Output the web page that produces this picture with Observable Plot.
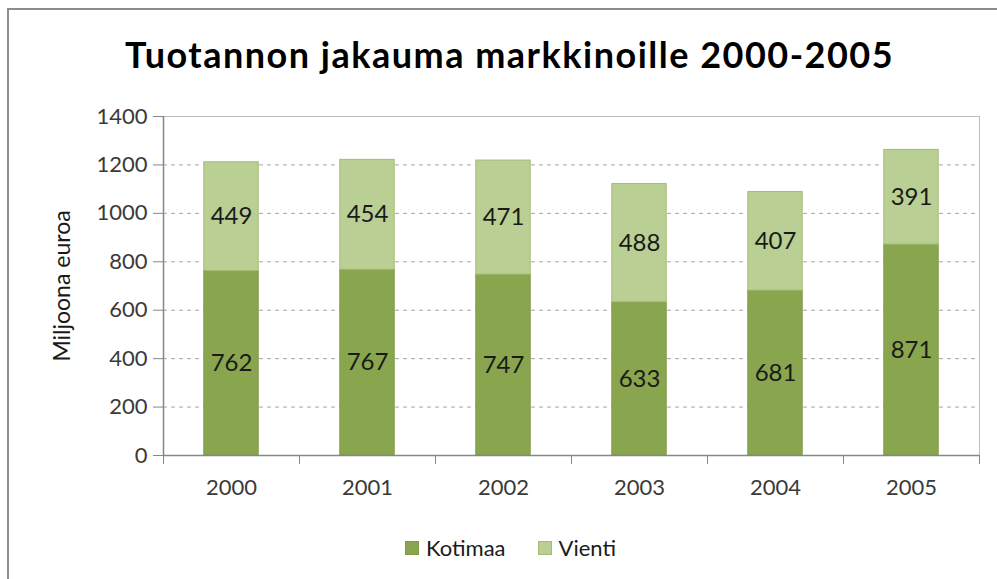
<!DOCTYPE html>
<html><head><meta charset="utf-8">
<script src="https://cdn.jsdelivr.net/npm/d3@7"></script>
<script src="https://cdn.jsdelivr.net/npm/@observablehq/plot@0.6"></script>
<style>
body{margin:0;background:#fff;font-family:Lato,sans-serif;}
#wrap{position:relative;width:997px;height:579px;overflow:hidden;background:#fff;}
#frame{position:absolute;left:7px;top:8px;width:1100px;height:700px;border-left:2px solid #8c8c8c;border-top:2px solid #8c8c8c;}
#title{position:absolute;top:36px;left:0;width:1019px;text-align:center;font-weight:700;font-size:36px;line-height:36px;letter-spacing:1.5px;color:#000;}
#chart{position:absolute;left:0;top:100px;}
#legend{position:absolute;top:536px;left:405px;display:flex;align-items:center;font-size:22px;line-height:24px;color:#1a1a1a;}
.sw{width:14px;height:14px;display:inline-block;margin-right:7px;box-sizing:border-box;}
.item{display:flex;align-items:center;margin-right:32px;}
</style></head>
<body>
<div id="wrap">
  <div id="frame"></div>
  <div id="title">Tuotannon jakauma markkinoille 2000-2005</div>
  <div id="chart"></div>
  <div id="legend"></div>
</div>
<script>
const years = ["2000", "2001", "2002", "2003", "2004", "2005"];
const seriesNames = ["Kotimaa", "Vienti"];
const kotimaa = [762, 767, 747, 633, 681, 871];
const vienti = [449, 454, 471, 488, 407, 391];
const yTicks = [0, 200, 400, 600, 800, 1000, 1200, 1400];
const fills = {Kotimaa: "#89a54e", Vienti: "#b9cf93"};
const strokes = {Kotimaa: "#7f9b47", Vienti: "#a2bd72"};

const rows = years.flatMap((year, i) => [
  {i, year, series: "Kotimaa", value: kotimaa[i]},
  {i, year, series: "Vienti", value: vienti[i]}
]);
const boundaries = d3.range(years.length + 1);
const centers = years.map((_, i) => i + 0.5);

const chart = Plot.plot({
  width: 997,
  height: 420,
  marginLeft: 163,
  marginRight: 18,
  marginTop: 16,
  marginBottom: 65,
  style: {fontFamily: "Lato, sans-serif", background: "transparent"},
  x: {domain: [0, years.length]},
  y: {domain: [0, 1400]},
  marks: [
    Plot.ruleY(yTicks.slice(1, -1), {stroke: "#a6a6a6", strokeDasharray: "4,4"}),
    Plot.frame({stroke: "#bdbdbd"}),
    Plot.rectY(rows, {
      x1: d => d.i + 0.3, x2: d => d.i + 0.7, y: "value",
      fill: d => fills[d.series], stroke: d => strokes[d.series], strokeWidth: 1
    }),
    Plot.text(rows, Plot.stackY({
      x: d => d.i + 0.5, y: "value", text: d => String(d.value),
      fontSize: 24, fill: "#1a1a1a"
    })),
    Plot.ruleY([0], {stroke: "#868686", strokeWidth: 1.5}),
    Plot.ruleX([0], {stroke: "#868686", strokeWidth: 1.5}),
    Plot.axisY({ticks: yTicks, tickSize: 10, tickPadding: 6, tickFormat: d => String(d), fontSize: 22, color: "#3a3a3a", stroke: "#868686", label: null}),
    Plot.axisX({ticks: boundaries, tickSize: 9, tickFormat: () => "", stroke: "#868686", label: null}),
    Plot.axisX({ticks: centers, tickSize: 0, tickPadding: 24, tickFormat: d => years[Math.round(d - 0.5)], fontSize: 22, color: "#3a3a3a", label: null}),
    Plot.text(["Miljoona euroa"], {text: d => d, frameAnchor: "left", textAnchor: "middle", rotate: -90, dx: -101, fontSize: 23, fill: "#1a1a1a"})
  ]
});
document.getElementById("chart").appendChild(chart);

const legend = document.getElementById("legend");
seriesNames.forEach(name => {
  const item = document.createElement("div");
  item.className = "item";
  const sw = document.createElement("span");
  sw.className = "sw";
  sw.style.background = fills[name];
  sw.style.border = "1px solid " + strokes[name];
  item.appendChild(sw);
  item.appendChild(document.createTextNode(name));
  legend.appendChild(item);
});
</script>
</body></html>
